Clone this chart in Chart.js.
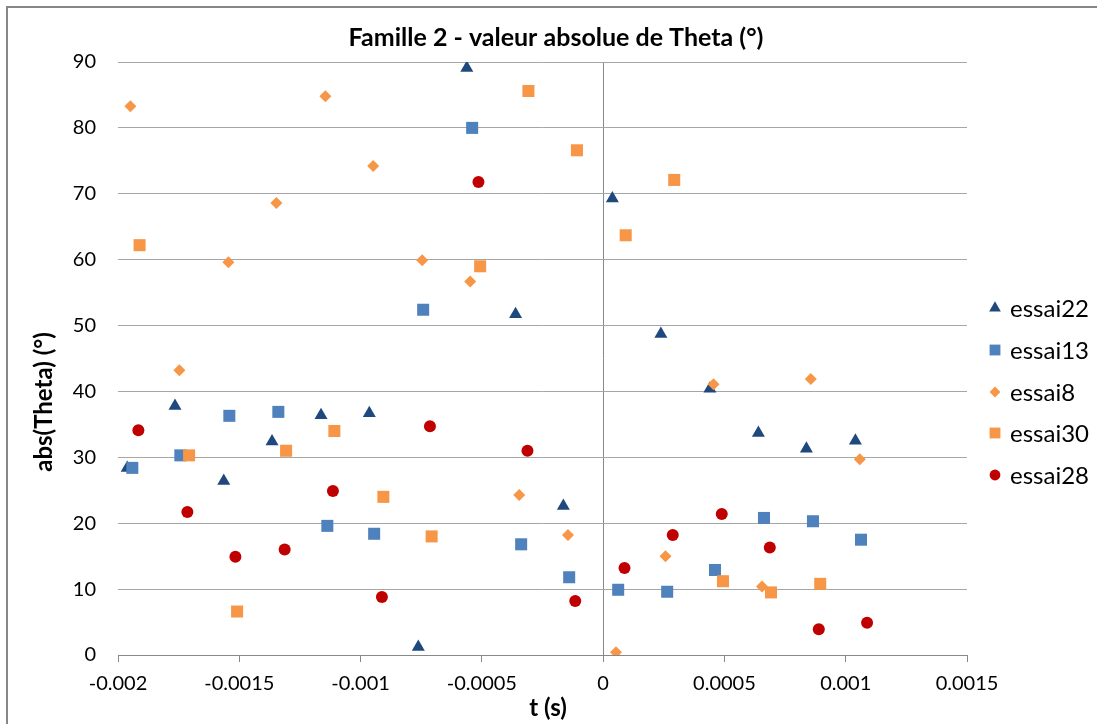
<!DOCTYPE html>
<html><head><meta charset="utf-8">
<script src="https://cdn.jsdelivr.net/npm/chart.js@4/dist/chart.umd.min.js"></script>
<style>html,body{margin:0;padding:0;background:#fff}#wrap{width:1097px;height:724px}</style>
</head><body><div id="wrap"><canvas id="c" width="1097" height="724"></canvas></div>
<script>
const chartTitle = 'Famille 2 - valeur absolue de Theta (°)';
const xTitle = 't (s)';
const yTitle = 'abs(Theta) (°)';
const xTickLabels = ['-0.002','-0.0015','-0.001','-0.0005','0','0.0005','0.001','0.0015'];
const yTickLabels = ['0','10','20','30','40','50','60','70','80','90'];
const seriesNames = ['essai22','essai13','essai8','essai30','essai28'];

const t22 = [-0.001962,-0.001765,-0.001564,-0.001365,-0.001163,-0.000964,-0.000762,-0.000562,-0.000361,-0.000164,0.000038,0.000238,0.000440,0.000640,0.000838,0.001040];
const v22 = [28.4,37.8,26.4,32.4,36.4,36.7,1.2,89.1,51.7,22.6,69.3,48.7,40.4,33.7,31.3,32.5];

const t13 = [-0.001941,-0.001743,-0.001541,-0.001339,-0.001137,-0.000944,-0.000742,-0.000540,-0.000338,-0.000140,0.000062,0.000264,0.000461,0.000663,0.000865,0.001063];
const v13 = [28.4,30.3,36.3,36.9,19.6,18.4,52.4,80.0,16.8,11.8,9.9,9.6,12.9,20.8,20.3,17.5];

const t8 = [-0.001949,-0.001747,-0.001545,-0.001347,-0.001145,-0.000948,-0.000746,-0.000548,-0.000346,-0.000145,0.000053,0.000257,0.000455,0.000655,0.000856,0.001058];
const v8 = [83.3,43.2,59.6,68.6,84.8,74.2,59.9,56.7,24.3,18.2,0.4,15.0,41.1,10.4,41.9,29.7];

const t30 = [-0.001911,-0.001707,-0.001509,-0.001307,-0.001108,-0.000906,-0.000707,-0.000507,-0.000308,-0.000108,0.000093,0.000293,0.000494,0.000692,0.000895];
const v30 = [62.2,30.3,6.6,31.0,34.0,24.0,18.0,59.0,85.6,76.6,63.7,72.1,11.2,9.5,10.8];

const t28 = [-0.001916,-0.001714,-0.001516,-0.001313,-0.001114,-0.000912,-0.000714,-0.000514,-0.000312,-0.000115,0.000088,0.000287,0.000489,0.000687,0.000889,0.001088];
const v28 = [34.1,21.7,14.9,16.0,24.9,8.8,34.7,71.8,31.0,8.2,13.2,18.2,21.4,16.3,3.9,4.9];

const seriesT = [t22,t13,t8,t30,t28];
const seriesV = [v22,v13,v8,v30,v28];
const seriesColors = ['#1F497D','#4F81BD','#F79646','#F79646','#C00000'];
const seriesStyles = ['triangle','rect','rectRot','rect','circle'];
const seriesRadius = [7.5,8.5,6,8.5,6];

const FONT = 'Lato, "Open Sans", sans-serif';

const datasets = seriesNames.map((name,i)=>({
  label:name,
  data: seriesT[i].map((t,j)=>({x:t,y:seriesV[i][j]})),
  pointStyle: seriesStyles[i],
  pointRadius: seriesRadius[i],
  pointHoverRadius: seriesRadius[i],
  backgroundColor: seriesColors[i],
  borderColor: seriesColors[i],
  borderWidth: 0,
  showLine:false,
  order: seriesNames.length-1-i
}));

const decor = {
  id:'decor',
  afterDraw(chart){
    const ctx = chart.ctx;
    ctx.save();
    ctx.strokeStyle = '#878787';
    ctx.lineWidth = 2;
    ctx.beginPath();
    ctx.moveTo(7,724); ctx.lineTo(7,7); ctx.lineTo(1097,7);
    ctx.stroke();
    ctx.fillStyle = '#000';
    ctx.textAlign='center'; ctx.textBaseline='middle';
    ctx.font = 'bold 25px ' + FONT;
    ctx.fillText(chartTitle, 556, 38);
    ctx.font = 'bold 24px ' + FONT;
    ctx.fillText(xTitle, 548, 708);
    ctx.save();
    ctx.translate(44, 402);
    ctx.rotate(-Math.PI/2);
    ctx.font = 'bold 24px ' + FONT;
    ctx.fillText(yTitle, 0, 0);
    ctx.restore();
    const rows = [308,350,392,433,475];
    ctx.font = '24px ' + FONT;
    ctx.textAlign='left';
    chart.data.datasets.forEach((ds,i)=>{
      ctx.fillStyle = ds.backgroundColor;
      ctx.strokeStyle = ds.borderColor;
      Chart.helpers.drawPoint(ctx,{pointStyle:ds.pointStyle, radius:ds.pointRadius*0.9, rotation:0, borderWidth:0},995,rows[i]);
      ctx.fillStyle='#000';
      ctx.fillText(ds.label, 1010, rows[i]+1);
    });
    ctx.restore();
  }
};

new Chart(document.getElementById('c'), {
  type:'scatter',
  data:{datasets},
  options:{
    responsive:false,
    animation:false,
    devicePixelRatio:1,
    layout:{padding:{left:0,top:62,right:130,bottom:0}},
    plugins:{legend:{display:false},title:{display:false},tooltip:{enabled:false}},
    scales:{
      x:{
        type:'linear', min:-0.002, max:0.0015,
        afterBuildTicks(scale){ scale.ticks = xTickLabels.map(v=>({value:parseFloat(v)})); },
        ticks:{ callback:(v,i)=>xTickLabels[i], font:{family:FONT,size:20}, color:'#000', padding:10, maxRotation:0, autoSkip:false },
        grid:{
          color:(c)=> (c.tick && Math.abs(c.tick.value)<1e-12) ? '#888888' : 'rgba(0,0,0,0)',
          tickColor:'#888888', tickLength:7, drawTicks:true, lineWidth:1
        },
        border:{display:true,color:'#888888',width:1},
        afterFit(scale){ scale.height = 69; }
      },
      y:{
        type:'linear', min:0, max:90,
        afterBuildTicks(scale){ scale.ticks = yTickLabels.map(v=>({value:parseFloat(v)})); },
        ticks:{ callback:(v,i)=>yTickLabels[i], font:{family:FONT,size:20}, color:'#000', padding:22 },
        grid:{ color:'#A6A6A6', lineWidth:1, drawTicks:false },
        border:{display:false},
        afterFit(scale){ scale.width = 118; }
      }
    }
  },
  plugins:[decor]
});
</script>
</body></html>
